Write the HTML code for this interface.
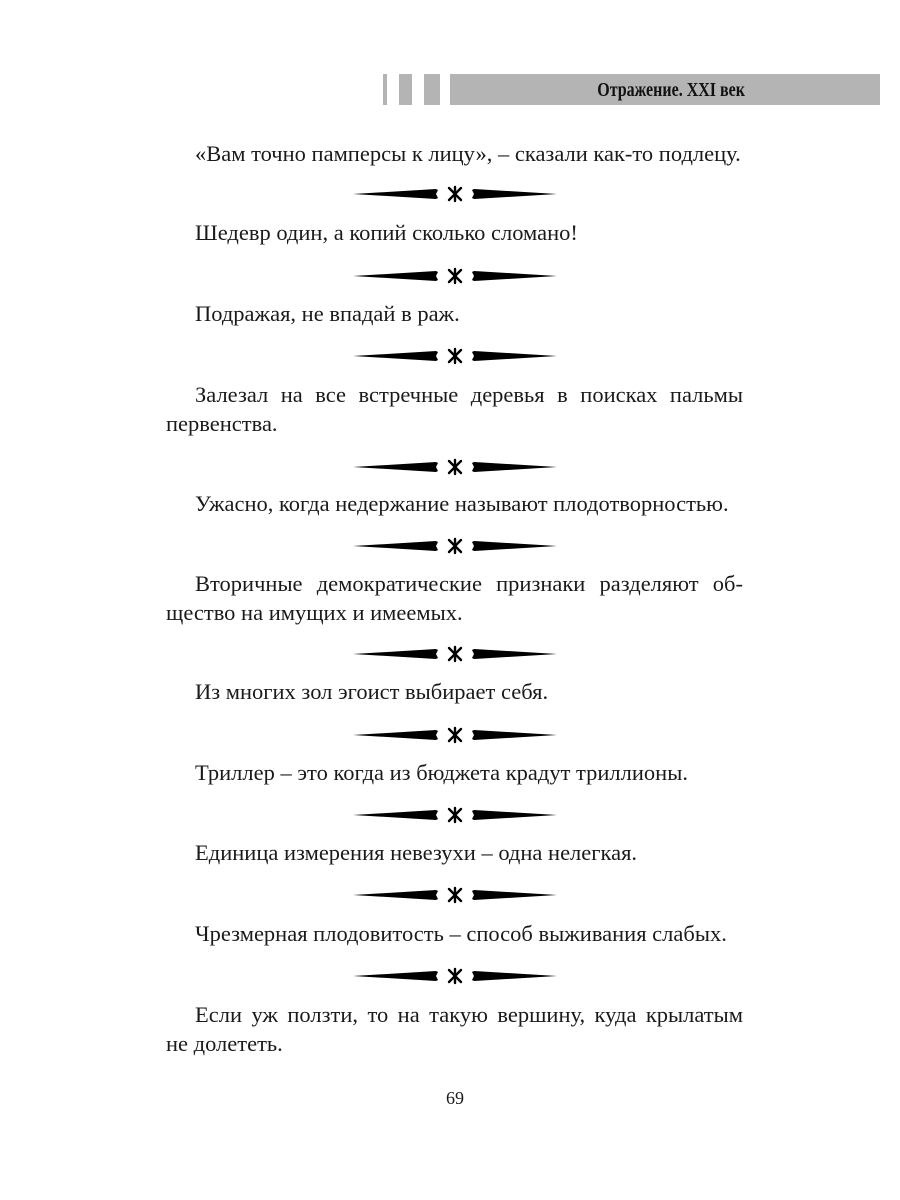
<!DOCTYPE html>
<html><head><meta charset="utf-8"><style>
body{margin:0;background:#fff;}
.pg{position:relative;width:900px;height:1200px;overflow:hidden;font-family:"Liberation Serif",serif;color:#1a1a1a;}
.t{position:absolute;left:166px;width:577px;font-size:22.5px;line-height:29px;text-align:left;white-space:nowrap;}
.j{text-align:justify;text-align-last:justify;white-space:normal;}
.t .i{display:inline-block;width:29px;}
.d{position:absolute;left:350px;width:210px;height:20px;}
.bar{position:absolute;background:#b4b4b4;top:74px;height:31px;}
</style></head><body><div class="pg">
<div class="bar" style="left:383px;width:4px"></div>
<div class="bar" style="left:399px;width:13px"></div>
<div class="bar" style="left:424px;width:16px"></div>
<div class="bar" style="left:450px;width:430px"></div>
<div style="position:absolute;left:450px;width:295px;top:74px;height:31px;line-height:33px;text-align:right;font-family:'Liberation Serif',serif;font-weight:bold;font-size:20px;color:#111;transform:scaleX(0.8);transform-origin:right;">Отражение. XXI век</div>

<div class="t" style="top:139px"><span class="i"></span>«Вам точно памперсы к лицу», – сказали как-то подлецу.</div>
<div class="t" style="top:218px"><span class="i"></span>Шедевр один, а копий сколько сломано!</div>
<div class="t" style="top:299px"><span class="i"></span>Подражая, не впадай в раж.</div>
<div class="t j" style="top:380px"><span class="i"></span>Залезал на все встречные деревья в поисках пальмы</div>
<div class="t" style="top:409px">первенства.</div>
<div class="t" style="top:489px"><span class="i"></span>Ужасно, когда недержание называют плодотворностью.</div>
<div class="t j" style="top:569px"><span class="i"></span>Вторичные демократические признаки разделяют об-</div>
<div class="t" style="top:598px">щество на имущих и имеемых.</div>
<div class="t" style="top:677px"><span class="i"></span>Из многих зол эгоист выбирает себя.</div>
<div class="t" style="top:758px"><span class="i"></span>Триллер – это когда из бюджета крадут триллионы.</div>
<div class="t" style="top:838px"><span class="i"></span>Единица измерения невезухи – одна нелегкая.</div>
<div class="t" style="top:919px"><span class="i"></span>Чрезмерная плодовитость – способ выживания слабых.</div>
<div class="t j" style="top:1000px"><span class="i"></span>Если уж ползти, то на такую вершину, куда крылатым</div>
<div class="t" style="top:1029px">не долететь.</div>
<div style="position:absolute;left:0;width:910px;top:1088px;text-align:center;font-size:18px;">69</div>

<svg width="0" height="0" style="position:absolute"><defs><g id="dv">
<polygon points="3,10 86,5 88,6 86,10 88,14 86,15" fill="#000"/>
<polygon points="207,10 124,5 122,6 124,10 122,14 124,15" fill="#000"/>
<g stroke="#000" stroke-width="2.4" stroke-linecap="round"><line x1="99" y1="4" x2="111" y2="16"/><line x1="111" y1="4" x2="99" y2="16"/><line x1="105" y1="3" x2="105" y2="17"/></g>
</g></defs></svg>
<svg class="d" style="top:184px"><use href="#dv"/></svg>
<svg class="d" style="top:266px"><use href="#dv"/></svg>
<svg class="d" style="top:346px"><use href="#dv"/></svg>
<svg class="d" style="top:457px"><use href="#dv"/></svg>
<svg class="d" style="top:536px"><use href="#dv"/></svg>
<svg class="d" style="top:644px"><use href="#dv"/></svg>
<svg class="d" style="top:725px"><use href="#dv"/></svg>
<svg class="d" style="top:805px"><use href="#dv"/></svg>
<svg class="d" style="top:885px"><use href="#dv"/></svg>
<svg class="d" style="top:966px"><use href="#dv"/></svg>
</div></body></html>
